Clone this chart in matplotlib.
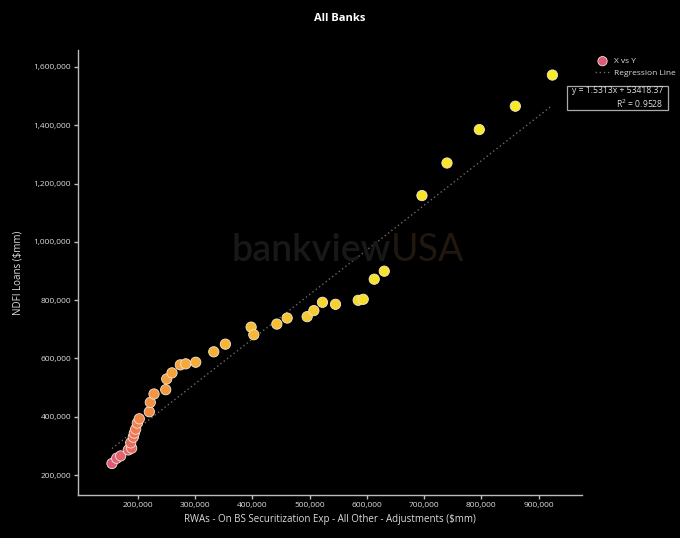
import numpy as np
import matplotlib.pyplot as plt
from matplotlib.colors import LinearSegmentedColormap
from matplotlib.lines import Line2D

plt.rcParams['font.family'] = ['Open Sans', 'DejaVu Sans']

# values ($mm)
rwa = [155100, 163300, 170300, 183600, 189500, 187800, 192300, 194100, 196500,
       199300, 202800, 220300, 222000, 228500, 248900, 250700, 259900, 274400,
       283900, 301300, 332800, 353100, 398000, 402700, 442900, 460900, 495800,
       507500, 522500, 545300, 584900, 593700, 612900, 630400, 696200, 739900,
       796300, 859200, 923900]
ndfi = [239600, 257500, 265500, 286100, 292000, 310200, 329900, 343700, 357400,
        378100, 392900, 417000, 449100, 478000, 492800, 529700, 550400, 577900,
        581400, 586900, 622700, 648900, 707400, 681300, 717800, 738500, 743300,
        764000, 792500, 785700, 799400, 802900, 871800, 899300, 1158700, 1270400,
        1385100, 1465300, 1572200]

slope = 1.5313
intercept = 53418.37
r2 = 0.9528

x = np.array(rwa)
y = np.array(ndfi)

cmap = LinearSegmentedColormap.from_list(
    'bv', ['#de5a78', '#ec7358', '#f3953f', '#f6ad36', '#f8c530', '#f8e126', '#f9ec24'])
rank = np.argsort(np.argsort(y)) / (len(y) - 1)

fig = plt.figure(figsize=(6.8, 5.38), dpi=100, facecolor='black')
ax = fig.add_axes([0.1147, 0.0799, 0.7413, 0.8271], facecolor='black')

# watermark
wm1 = fig.text(0.341, 0.535, 'bankview', fontsize=27, fontweight='semibold',
               family=['Lato', 'DejaVu Sans'], color='#181818', ha='left', va='center', zorder=0)
fig.canvas.draw()
bb = wm1.get_window_extent()
fig.text(bb.x1 / fig.bbox.width, 0.535, 'USA', fontsize=27, fontweight='normal',
         family=['Lato', 'DejaVu Sans'], color='#20170e', ha='left', va='center', zorder=0)
fig.add_artist(Line2D([0.282, 0.297, 0.305, 0.313, 0.322, 0.333],
                      [0.522, 0.541, 0.533, 0.545, 0.545, 0.527],
                      color='#1c1c1c', lw=2.2, transform=fig.transFigure, zorder=0))

xs = np.array([x.min(), x.max()])
ax.plot(xs, slope * xs + intercept, linestyle=(0, (1, 2)), color='#6a6a6a', lw=1,
        label='Regression Line', zorder=2)
ax.scatter(x, y, c=cmap(rank), s=55, edgecolors='#f3e6d8', linewidths=0.6,
           label='X vs Y', zorder=3)

ax.set_xlim(95800, 975700)
ax.set_ylim(131400, 1658000)
ax.set_xticks(np.arange(200000, 1000000, 100000))
ax.set_yticks(np.arange(200000, 1700000, 200000))
ax.xaxis.set_major_formatter(plt.FuncFormatter(lambda v, p: f'{v:,.0f}'))
ax.yaxis.set_major_formatter(plt.FuncFormatter(lambda v, p: f'{v:,.0f}'))

for s in ['top', 'right']:
    ax.spines[s].set_visible(False)
for s in ['left', 'bottom']:
    ax.spines[s].set_color('#bbbbbb')
    ax.spines[s].set_linewidth(1)
ax.tick_params(colors='#bbbbbb', labelcolor='#dddddd', labelsize=6, length=3, width=1, pad=2)

ax.set_xlabel('RWAs - On BS Securitization Exp - All Other - Adjustments ($mm)',
              color='#dddddd', fontsize=7, va='center')
ax.xaxis.set_label_coords(0.5, -0.056)
ax.set_ylabel('NDFI Loans ($mm)', color='#dddddd', fontsize=7, va='center')
ax.yaxis.set_label_coords(-0.119, 0.5)
fig.suptitle('All Banks', color='white', fontsize=8, fontweight='bold', y=0.975)

leg = ax.legend(handles=ax.get_legend_handles_labels()[0][::-1],
                loc='upper left', bbox_to_anchor=(1.01, 1.0), frameon=False,
                fontsize=6, labelcolor='#dddddd', handlelength=1.9, handletextpad=0.45,
                markerscale=0.9)

fig.text(0.976, 0.818, f'y = {slope}x + {intercept}\nR$^2$ = {r2}', fontsize=6.2,
         color='#dddddd', ha='right', va='center', multialignment='right',
         linespacing=1.25)
box = plt.Rectangle((0.834, 0.795), 0.148, 0.046, transform=fig.transFigure,
                    fill=False, edgecolor='#aaaaaa', lw=0.9)
fig.add_artist(box)

fig.savefig('out.png', dpi=100, facecolor='black')
